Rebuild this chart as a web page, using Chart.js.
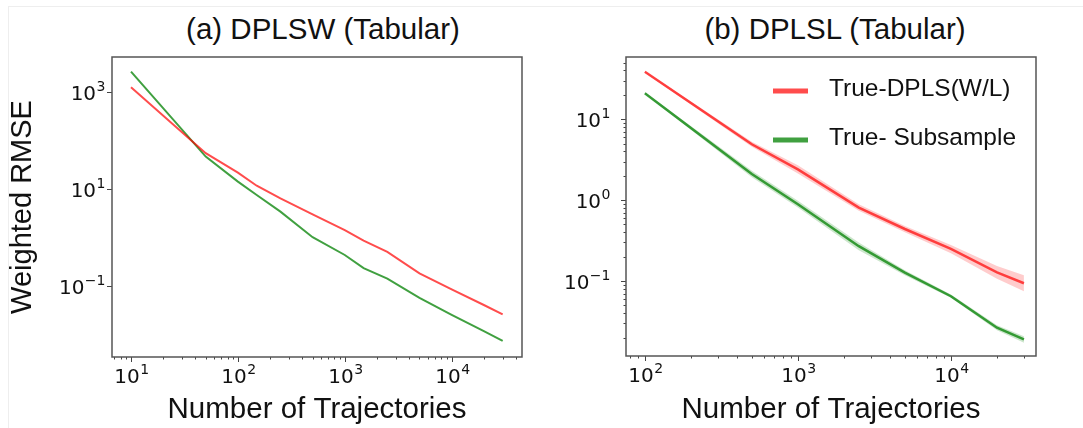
<!DOCTYPE html>
<html>
<head>
<meta charset="utf-8">
<script src="https://cdn.jsdelivr.net/npm/chart.js@4.4.0/dist/chart.umd.min.js"></script>
<style>
  body { margin:0; width:1083px; height:428px; overflow:hidden; background:#fff; font-family:"Liberation Sans", Arial, sans-serif; }
  .frame { position:absolute; left:8px; top:6px; width:1075px; height:440px; border-left:1px solid #eee; border-top:1px solid #eee; }
  .title { position:absolute; top:13px; font-size:29.5px; line-height:32px; color:#111; transform:translateX(-50%); white-space:nowrap; }
  canvas { position:absolute; top:0; }
</style>
</head>
<body>
<div class="frame"></div>
<div class="title" style="left:323px">(a) DPLSW (Tabular)</div>
<div class="title" style="left:835px">(b) DPLSL (Tabular)</div>
<canvas id="chartA" width="541" height="428" style="left:0"></canvas>
<canvas id="chartB" width="542" height="428" style="left:541px"></canvas>
<script>
// panel (a) DPLSW
const trajA = [10, 50, 100, 150, 250, 500, 1000, 1500, 2500, 5000, 10000, 20000, 30000];
const dplsA = [1230, 54, 21.4, 11.5, 6.3, 2.95, 1.4, 0.85, 0.50, 0.18, 0.084, 0.040, 0.0257];
const subA  = [2600, 46, 14, 7.4, 3.36, 1.0, 0.43, 0.23, 0.14, 0.056, 0.025, 0.0116, 0.0073];

// panel (b) DPLSL, with the shaded spread
const trajB = [100, 500, 1000, 2500, 5000, 10000, 20000, 30000];
const dplsB   = [38.5, 4.9, 2.4, 0.81, 0.44, 0.25, 0.128, 0.094];
const dplsBHi = [39.5, 5.25, 2.69, 0.89, 0.48, 0.28, 0.154, 0.118];
const dplsBLo = [37.5, 4.57, 2.14, 0.74, 0.40, 0.22, 0.107, 0.075];
const subB    = [21, 2.1, 0.89, 0.27, 0.127, 0.065, 0.0265, 0.019];
const subBHi  = [21.5, 2.3, 0.98, 0.30, 0.136, 0.068, 0.0284, 0.0208];
const subBLo  = [20.5, 1.92, 0.81, 0.24, 0.118, 0.062, 0.0247, 0.0173];

const seriesNames = ['True-DPLS(W/L)', 'True- Subsample'];

// tick labels (powers of ten) and axis limits
const xMajorA = [10, 100, 1000, 10000];
const yMajorA = [1000, 10, 0.1];
const xMajorB = [100, 1000, 10000];
const yMajorB = [10, 1, 0.1];
const limitsA = {xmin: 6.64, xmax: 45500, ymin: 0.00339, ymax: 5190};
const limitsB = {xmin: 75.3, xmax: 35970, ymin: 0.01186, ymax: 58.7};

const RED = 'rgba(255,0,0,0.7)';
const GREEN = 'rgba(0,128,0,0.75)';
const SANS = '"Liberation Sans", Arial, sans-serif';
const MATH = '"DejaVu Sans", sans-serif';

function logTicks(min, max, majors, withMinor) {
  const out = [];
  for (let e = Math.floor(Math.log10(min)); e <= Math.ceil(Math.log10(max)); e++) {
    for (let m = 1; m < 10; m++) {
      const v = m * Math.pow(10, e);
      if (v < min || v > max) continue;
      const isMajor = m === 1 && majors.some(t => Math.abs(Math.log10(t) - e) < 1e-9);
      if (isMajor || (withMinor && m > 1)) out.push({value: v, major: isMajor});
    }
  }
  return out;
}

function pts(xs, ys) { return xs.map((x, i) => ({x, y: ys[i]})); }

// "10" with a raised exponent, like matplotlib's math text
function drawPow(ctx, v, x, base, align) {
  const e = Math.round(Math.log10(v));
  const expTxt = e < 0 ? '\u2212' + (-e) : String(e);
  ctx.font = '20px ' + MATH;
  const w1 = ctx.measureText('10').width;
  ctx.font = '14px ' + MATH;
  const w2 = ctx.measureText(expTxt).width;
  const left = align === 'center' ? x - (w1 + w2) / 2 : x - (w1 + w2);
  ctx.font = '20px ' + MATH;
  ctx.fillText('10', left, base);
  ctx.font = '14px ' + MATH;
  ctx.fillText(expTxt, left + w1 + 0.5, base - 9);
}

const frameAndTicks = {
  id: 'frameAndTicks',
  afterDraw(chart, args, opts) {
    const {ctx, chartArea: a, scales} = chart;
    ctx.save();
    ctx.strokeStyle = '#444';
    ctx.fillStyle = '#111';
    ctx.lineWidth = 1;
    ctx.textAlign = 'left';
    ctx.textBaseline = 'alphabetic';
    ['x', 'y'].forEach(id => {
      const s = scales[id];
      s.ticks.forEach(t => {
        const len = t.major ? 5 : 2.5;
        const p = Math.round(s.getPixelForValue(t.value)) + 0.5;
        ctx.beginPath();
        if (id === 'x') { ctx.moveTo(p, a.bottom); ctx.lineTo(p, a.bottom + len); }
        else { ctx.moveTo(a.left, p); ctx.lineTo(a.left - len, p); }
        ctx.stroke();
        if (!t.major) return;
        if (id === 'x') drawPow(ctx, t.value, p, a.bottom + 26, 'center');
        else drawPow(ctx, t.value, a.left - opts.labelGap, p + 7.5, 'right');
      });
    });
    ctx.lineWidth = 1.5;
    ctx.strokeStyle = '#555';
    ctx.strokeRect(a.left, a.top, a.right - a.left, a.bottom - a.top);
    ctx.restore();
  }
};

const lineLegend = {
  id: 'lineLegend',
  afterDraw(chart, args, opts) {
    if (!opts.show) return;
    const {ctx, chartArea: a} = chart;
    ctx.save();
    ctx.font = '24.5px ' + SANS;
    ctx.textBaseline = 'middle';
    ctx.fillStyle = '#111';
    opts.items.forEach((idx, i) => {
      const ds = chart.data.datasets[idx];
      const y = a.top + 34 + i * 49;
      ctx.strokeStyle = ds.borderColor;
      ctx.lineWidth = 5;
      ctx.beginPath();
      ctx.moveTo(a.left + 147, y);
      ctx.lineTo(a.left + 182, y);
      ctx.stroke();
      ctx.fillText(ds.label, a.left + 203, y - 2);
    });
    ctx.restore();
  }
};

function makeScales(lim, xMaj, yMaj, yMinor, yWidth, xHeight, yTitle) {
  return {
    x: {
      type: 'logarithmic', min: lim.xmin, max: lim.xmax,
      grid: {display: false, drawTicks: false},
      border: {display: false},
      afterBuildTicks: s => { s.ticks = logTicks(lim.xmin, lim.xmax, xMaj, true); },
      afterFit: s => { s.height = xHeight; },
      ticks: {autoSkip: false, maxRotation: 0, callback: () => ''},
      title: {display: true, text: 'Number of Trajectories', color: '#111',
        font: {family: SANS, size: 29.5}, padding: {top: 0, bottom: 0}}
    },
    y: {
      type: 'logarithmic', min: lim.ymin, max: lim.ymax,
      grid: {display: false, drawTicks: false},
      border: {display: false},
      afterBuildTicks: s => { s.ticks = logTicks(lim.ymin, lim.ymax, yMaj, yMinor); },
      afterFit: s => { s.width = yWidth; },
      ticks: {autoSkip: false, callback: () => ''},
      title: {display: !!yTitle, text: yTitle || '', color: '#111',
        font: {family: SANS, size: 29}, padding: {top: 6, bottom: 0}}
    }
  };
}

function lineSet(label, xs, ys, color, width) {
  return {label, data: pts(xs, ys), borderColor: color, backgroundColor: color,
    borderWidth: width, pointRadius: 0, tension: 0, fill: false};
}
function bandSet(xs, ys, color, fill) {
  return {label: '', data: pts(xs, ys), borderColor: 'rgba(0,0,0,0)', backgroundColor: color,
    borderWidth: 0, pointRadius: 0, tension: 0, fill};
}

const common = {responsive: false, animation: false};

new Chart(document.getElementById('chartA'), {
  type: 'line',
  data: {datasets: [
    lineSet(seriesNames[0], trajA, dplsA, RED, 2),
    lineSet(seriesNames[1], trajA, subA, GREEN, 2)
  ]},
  options: {...common,
    plugins: {legend: {display: false}, tooltip: {enabled: false}, frameAndTicks: {labelGap: 7}},
    layout: {padding: {top: 57, right: 19, left: 0, bottom: 0}},
    scales: makeScales(limitsA, xMajorA, yMajorA, false, 112, 71, 'Weighted RMSE')
  },
  plugins: [frameAndTicks]
});

new Chart(document.getElementById('chartB'), {
  type: 'line',
  data: {datasets: [
    lineSet(seriesNames[0], trajB, dplsB, RED, 2.5),
    lineSet(seriesNames[1], trajB, subB, GREEN, 2.5),
    bandSet(trajB, dplsBHi, 'rgba(255,0,0,0.2)', '+1'),
    bandSet(trajB, dplsBLo, 'rgba(255,0,0,0.2)', false),
    bandSet(trajB, subBHi, 'rgba(0,128,0,0.2)', '+1'),
    bandSet(trajB, subBLo, 'rgba(0,128,0,0.2)', false)
  ]},
  options: {...common,
    plugins: {legend: {display: false}, tooltip: {enabled: false},
      frameAndTicks: {labelGap: 16}, lineLegend: {show: true, items: [0, 1]}},
    layout: {padding: {top: 57, right: 47, left: 0, bottom: 0}},
    scales: makeScales(limitsB, xMajorB, yMajorB, true, 85, 72, '')
  },
  plugins: [frameAndTicks, lineLegend]
});
</script>
</body>
</html>
